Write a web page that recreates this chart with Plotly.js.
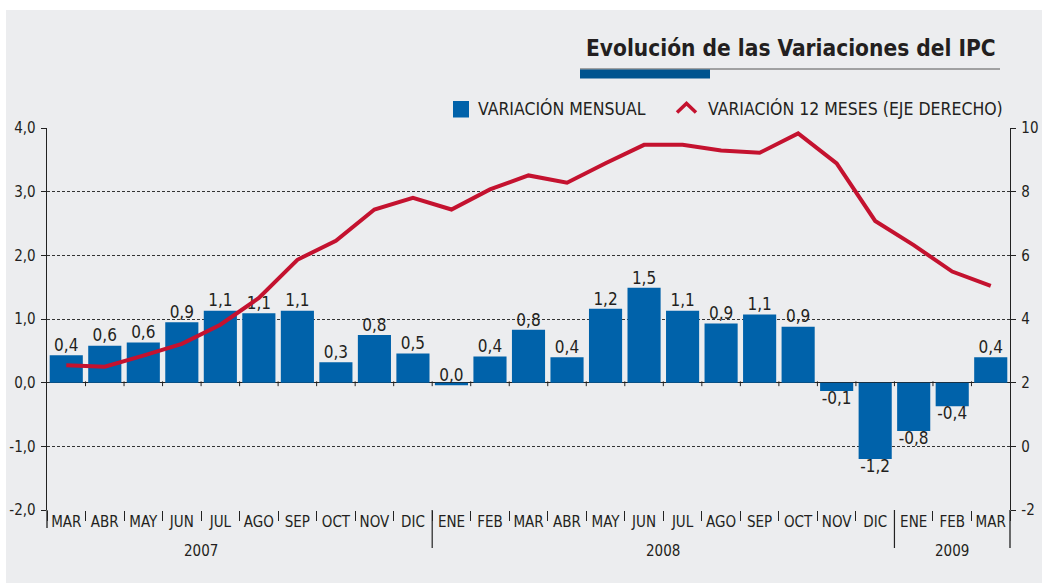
<!DOCTYPE html>
<html>
<head>
<meta charset="utf-8">
<script src="https://cdn.plot.ly/plotly-3.0.1.min.js"></script>
<style>
  html, body { margin: 0; padding: 0; background: #ffffff; }
  #chart { position: absolute; left: 6px; top: 10px; width: 1036px; height: 573px; }
</style>
</head>
<body>
<div id="chart"></div>
<script>
// ---- data ----
const months = ["MAR","ABR","MAY","JUN","JUL","AGO","SEP","OCT","NOV","DIC",
                "ENE","FEB","MAR","ABR","MAY","JUN","JUL","AGO","SEP","OCT","NOV","DIC",
                "ENE","FEB","MAR"];
const years = ["2007","2007","2007","2007","2007","2007","2007","2007","2007","2007",
               "2008","2008","2008","2008","2008","2008","2008","2008","2008","2008","2008","2008",
               "2009","2009","2009"];
const variacionMensual = [0.43,0.58,0.63,0.95,1.13,1.09,1.13,0.32,0.75,0.46,
                          -0.04,0.41,0.83,0.40,1.16,1.49,1.13,0.93,1.07,0.88,-0.13,-1.20,
                          -0.76,-0.37,0.40];
const etiquetasMensual = ["0,4","0,6","0,6","0,9","1,1","1,1","1,1","0,3","0,8","0,5",
                          "0,0","0,4","0,8","0,4","1,2","1,5","1,1","0,9","1,1","0,9","-0,1","-1,2",
                          "-0,8","-0,4","0,4"];
const variacion12Meses = [2.55,2.50,2.85,3.22,3.82,4.66,5.86,6.46,7.44,7.81,
                          7.44,8.07,8.51,8.28,8.89,9.47,9.47,9.29,9.22,9.83,8.89,7.08,
                          6.32,5.49,5.04];
const leftTicks = [-2,-1,0,1,2,3,4];
const rightTicks = [-2,0,2,4,6,8,10];

// ---- styling ----
const FONT = "'Liberation Sans Narrow', 'Arial Narrow', 'DejaVu Sans Condensed', sans-serif";
const TXT = "#231f20";
const BLUE = "#0062aa";
const RED = "#c4122f";
const BG = "#ecedef";

const cats = months.map((m, i) => m + " " + years[i]);

// page-pixel -> paper helpers (plot area spans page x 47..1010, y 128..510)
const L = 47, R = 1010, T = 128, B = 510;
const px = x => (x - L) / (R - L);
const py = y => (B - y) / (B - T);

const traces = [
  {
    type: "bar", x: cats, y: variacionMensual, yaxis: "y",
    marker: { color: BLUE }, hoverinfo: "skip", showlegend: false
  },
  {
    type: "scatter", mode: "text", x: cats, y: variacionMensual, yaxis: "y",
    text: etiquetasMensual,
    textposition: etiquetasMensual.map(t => t.startsWith("-") ? "bottom center" : "top center"),
    textfont: { family: FONT, size: 17, color: TXT },
    cliponaxis: false, hoverinfo: "skip", showlegend: false
  },
  {
    type: "scatter", mode: "lines", x: cats, y: variacion12Meses, yaxis: "y2",
    line: { color: RED, width: 4 }, hoverinfo: "skip", showlegend: false
  }
];

const shapes = [];
const annotations = [];

// small ticks on the zero line at category boundaries
for (let i = 0; i < cats.length - 1; i++) {
  shapes.push({ type: "line", xref: "x", yref: "y", x0: i + 0.5, x1: i + 0.5, y0: -0.055, y1: 0.02,
                line: { color: "#222", width: 1 } });
}
// year dividers below the axis
const groups = [];
years.forEach((yv, i) => {
  if (i === 0 || yv !== years[i - 1]) groups.push({ year: yv, s: i, e: i });
  else groups[groups.length - 1].e = i;
});
groups.forEach((g, gi) => {
  if (gi > 0) {
    shapes.push({ type: "line", xref: "x", yref: "paper", x0: g.s - 0.5, x1: g.s - 0.5,
                  y0: py(548), y1: 0, line: { color: "#222", width: 1.2 } });
  }
  const center = months[g.e] === "DIC" ? g.e - 5.5 : (g.s + g.e) / 2;
  annotations.push({ xref: "x", yref: "paper", x: center, y: py(551), text: g.year,
                     showarrow: false, xanchor: "center", yanchor: "middle",
                     font: { family: FONT, size: 15, color: TXT } });
});
// axis line extensions
shapes.push({ type: "line", xref: "paper", yref: "paper", x0: 1, x1: 1, y0: py(548), y1: 0,
              line: { color: "#222", width: 1.3 } });
shapes.push({ type: "line", xref: "paper", yref: "paper", x0: 0, x1: 0, y0: py(528), y1: 0,
              line: { color: "#222", width: 1.3 } });

// title and underline
annotations.push({ xref: "paper", yref: "paper", x: px(998), y: py(48), xanchor: "right", yanchor: "middle",
                   text: "Evolución de las Variaciones del IPC", showarrow: false,
                   font: { family: FONT, size: 22.5, weight: 700, color: TXT } });
shapes.push({ type: "line", xref: "paper", yref: "paper", x0: px(580), x1: px(1000), y0: py(69), y1: py(69),
              line: { color: "#555", width: 1 } });
shapes.push({ type: "rect", xref: "paper", yref: "paper", x0: px(580), x1: px(710), y0: py(78.5), y1: py(69.5),
              fillcolor: "#00548f", line: { width: 0 } });

// legend
shapes.push({ type: "rect", xref: "paper", yref: "paper", x0: px(453), x1: px(469), y0: py(117.5), y1: py(101),
              fillcolor: BLUE, line: { width: 0 } });
annotations.push({ xref: "paper", yref: "paper", x: px(476), y: py(108.5), xanchor: "left", yanchor: "middle",
                   text: "VARIACIÓN MENSUAL", showarrow: false,
                   font: { family: FONT, size: 17.5, color: TXT } });
shapes.push({ type: "path", xref: "paper", yref: "paper",
              path: "M" + px(677) + "," + py(112.5) + " L" + px(686.5) + "," + py(103.5) + " L" + px(696) + "," + py(112.5),
              line: { color: RED, width: 3.5 } });
annotations.push({ xref: "paper", yref: "paper", x: px(706), y: py(108.5), xanchor: "left", yanchor: "middle",
                   text: "VARIACIÓN 12 MESES (EJE DERECHO)", showarrow: false,
                   font: { family: FONT, size: 17.5, color: TXT } });

const fmtLeft = v => v.toFixed(1).replace(".", ",");
const fmtRight = v => String(v);

const layout = {
  width: 1036, height: 573,
  margin: { l: 41, r: 32, t: 118, b: 73, pad: 0 },
  paper_bgcolor: BG, plot_bgcolor: BG,
  separators: ",.",
  bargap: 0.14,
  showlegend: false,
  font: { family: FONT, color: TXT },
  xaxis: {
    type: "category", tickmode: "array", tickvals: cats, ticktext: months,
    tickson: "boundaries", ticks: "outside", ticklen: 10, tickwidth: 1, tickcolor: "#222",
    showgrid: false, showline: false, zeroline: false, tickangle: 0,
    tickfont: { family: FONT, size: 15, color: TXT }, ticklabelstandoff: 1,
    range: [-0.5, cats.length - 0.5], fixedrange: true
  },
  yaxis: {
    range: [-2, 4], tickmode: "array", tickvals: leftTicks, ticktext: leftTicks.map(fmtLeft),
    showgrid: true, gridcolor: "#333", gridwidth: 1, griddash: "3px,2px",
    zeroline: true, zerolinecolor: "#222", zerolinewidth: 1.3,
    showline: true, linecolor: "#222", linewidth: 1.3,
    ticks: "outside", ticklen: 5, tickcolor: "#222", tickwidth: 1,
    tickfont: { family: FONT, size: 15, color: TXT }, ticklabelstandoff: 2, fixedrange: true
  },
  yaxis2: {
    overlaying: "y", side: "right", range: [-2, 10], tickmode: "array", tickvals: rightTicks,
    ticktext: rightTicks.map(fmtRight), showgrid: false, zeroline: false,
    showline: true, linecolor: "#222", linewidth: 1.3,
    ticks: "outside", ticklen: 5, tickcolor: "#222", tickwidth: 1,
    tickfont: { family: FONT, size: 15, color: TXT }, ticklabelstandoff: 2, fixedrange: true
  },
  shapes: shapes,
  annotations: annotations
};

Plotly.newPlot("chart", traces, layout, { displayModeBar: false, staticPlot: true });
</script>
</body>
</html>
